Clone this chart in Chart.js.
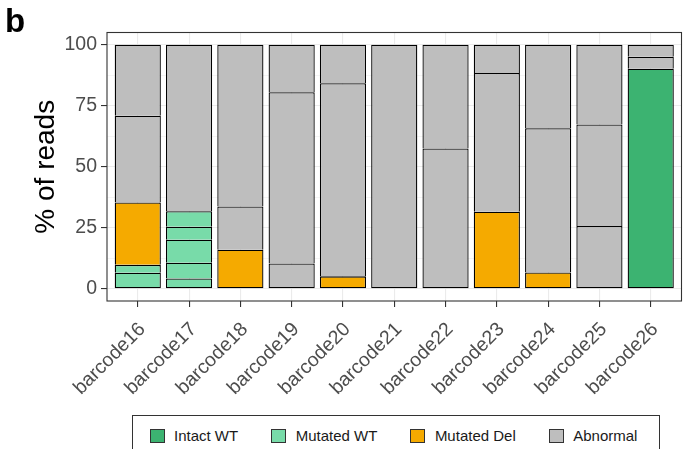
<!DOCTYPE html>
<html>
<head>
<meta charset="utf-8">
<script src="https://cdn.jsdelivr.net/npm/chart.js@4"></script>
<style>
  html, body { margin: 0; padding: 0; background: #fff; overflow: hidden; }
  #wrap { position: relative; width: 683px; height: 449px; }
  #legend {
    position: absolute; left: 131.5px; top: 415px; width: 528px; height: 45px;
    box-sizing: border-box; border: 1px solid #333; background: #fff;
    display: flex; align-items: flex-start; padding-left: 17px; padding-top: 11px;
    font: 15px 'Liberation Sans', Arial, sans-serif; color: #1a1a1a;
    white-space: nowrap;
  }
  .item { display: flex; align-items: center; margin-right: 33px; flex: 0 0 auto; }
  .sw { width: 15px; height: 14px; box-sizing: border-box; border: 1px solid #333; margin-right: 9.5px; flex: 0 0 auto; }
</style>
</head>
<body>
<div id="wrap">
  <canvas id="c" width="683" height="449"></canvas>
  <div id="legend"></div>
</div>
<script>
// Read categories and per-class stacked pieces (bottom to top, % of reads)
const categories = ['barcode16', 'barcode17', 'barcode18', 'barcode19', 'barcode20', 'barcode21',
                    'barcode22', 'barcode23', 'barcode24', 'barcode25', 'barcode26'];
const classNames = ['Intact WT', 'Mutated WT', 'Mutated Del', 'Abnormal'];
const classColors = ['#3CB371', '#78DBA9', '#F5AA00', '#BEBEBE'];

const intactWT   = [[], [], [], [], [], [], [], [], [], [], [90.2]];
const mutatedWT  = [[6.6, 3.2], [4.2, 6.5, 9.4, 5.3, 6.4], [], [], [], [], [], [], [], [], []];
const mutatedDel = [[25.6], [], [16.0], [], [5.1], [], [], [31.6], [6.7], [], []];
const abnormal   = [[35.5, 29.1], [68.2], [17.7, 66.3], [10.4, 70.1, 19.5], [79.1, 15.8], [100],
                    [57.5, 42.5], [56.8, 11.6], [59.1, 34.2], [25.7, 41.6, 32.7], [4.9, 4.9]];
const yTicks = [0, 25, 50, 75, 100];

const FONT = "'Liberation Sans', Arial, Helvetica, sans-serif";
const classPieces = [intactWT, mutatedWT, mutatedDel, abnormal];

// One dataset per stacking layer of each class
const datasets = [];
classPieces.forEach((pieces, c) => {
  const depth = Math.max(...pieces.map(p => p.length));
  for (let k = 0; k < depth; k++) {
    datasets.push({
      label: classNames[c],
      data: pieces.map((p, i) => ({ x: i, y: p[k] !== undefined ? p[k] : null })),
      backgroundColor: classColors[c],
      borderColor: '#000000',
      stack: 'reads'
    });
  }
});

// First non-empty layer for each bar keeps its bottom edge
const bottomLayer = categories.map((_, i) => datasets.findIndex(d => d.data[i].y !== null));

// Full tick list on y: majors plus minor grid positions
const yAll = [];
for (let v = 0; v <= 100; v += 12.5) yAll.push(v);

const decorations = {
  id: 'decorations',
  afterDraw(chart) {
    const { ctx, chartArea: a } = chart;
    ctx.save();
    // panel border
    ctx.strokeStyle = '#333333';
    ctx.lineWidth = 1.1;
    ctx.strokeRect(a.left, a.top, a.right - a.left, a.bottom - a.top);
    // y axis title
    ctx.fillStyle = '#000';
    ctx.font = '28px ' + FONT;
    ctx.textAlign = 'center';
    ctx.textBaseline = 'alphabetic';
    ctx.translate(53.5, (a.top + a.bottom) / 2);
    ctx.rotate(-Math.PI / 2);
    ctx.fillText('% of reads', 0, 0);
    ctx.restore();
    // panel tag
    ctx.save();
    ctx.fillStyle = '#000';
    ctx.font = 'bold 33px ' + FONT;
    ctx.textAlign = 'left';
    ctx.textBaseline = 'alphabetic';
    ctx.fillText('b', 5, 31.5);
    ctx.restore();
  }
};

new Chart(document.getElementById('c'), {
  type: 'bar',
  data: { datasets },
  options: {
    responsive: false,
    animation: false,
    devicePixelRatio: 1,
    layout: { padding: { left: 0, right: 1.5, top: 32.5, bottom: 0 } },
    datasets: {
      bar: {
        barPercentage: 0.9,
        categoryPercentage: 1.0,
        borderWidth: 1.3,
        borderSkipped: ctx => (ctx.datasetIndex === bottomLayer[ctx.dataIndex] ? false : 'start')
      }
    },
    plugins: { legend: { display: false }, tooltip: { enabled: false } },
    scales: {
      x: {
        type: 'linear',
        stacked: true,
        offset: false,
        min: -0.6,
        max: 10.6,
        afterBuildTicks: s => { s.ticks = categories.map((_, i) => ({ value: i })); },
        afterFit: s => { s.height = 148; },
        grid: {
          offset: false,
          color: '#EBEBEB',
          lineWidth: 1.1,
          tickColor: '#333333',
          tickWidth: 1.1,
          tickLength: 6
        },
        border: { display: false },
        ticks: {
          autoSkip: false,
          minRotation: 45,
          maxRotation: 45,
          padding: 11,
          labelOffset: 4.5,
          color: '#4D4D4D',
          font: { family: FONT, size: 19.5 },
          callback: v => categories[Math.round(v)] ?? ''
        }
      },
      y: {
        stacked: true,
        min: -5,
        max: 105,
        afterBuildTicks: s => { s.ticks = yAll.map(v => ({ value: v })); },
        afterFit: s => { s.width = 107; },
        grid: {
          color: '#EBEBEB',
          lineWidth: ctx => (ctx.tick && yTicks.includes(ctx.tick.value) ? 1.1 : 0.55),
          tickColor: ctx => (ctx.tick && yTicks.includes(ctx.tick.value) ? '#333333' : 'rgba(0,0,0,0)'),
          tickWidth: 1.1,
          tickLength: 6
        },
        border: { display: false },
        ticks: {
          autoSkip: false,
          padding: 4,
          color: '#4D4D4D',
          font: { family: FONT, size: 19.5 },
          callback: v => (yTicks.includes(v) ? String(v) : '')
        }
      }
    }
  },
  plugins: [decorations]
});

// Legend in a framed box under the plot
const legend = document.getElementById('legend');
classNames.forEach((name, c) => {
  const item = document.createElement('div');
  item.className = 'item';
  const sw = document.createElement('span');
  sw.className = 'sw';
  sw.style.background = classColors[c];
  const tx = document.createElement('span');
  tx.textContent = name;
  item.appendChild(sw);
  item.appendChild(tx);
  legend.appendChild(item);
});
</script>
</body>
</html>
